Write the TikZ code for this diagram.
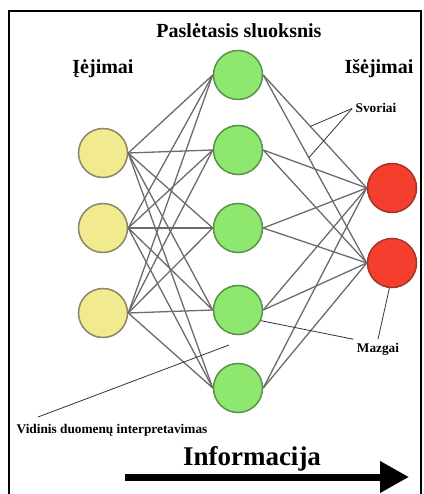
\documentclass[tikz,border=0pt]{standalone}
\usepackage{fontspec}
\setmainfont{Liberation Serif}
\usetikzlibrary{arrows.meta}

\definecolor{inptfill}{RGB}{242,234,142}
\definecolor{inptdraw}{RGB}{138,134,104}
\definecolor{hiddfill}{RGB}{142,232,112}
\definecolor{hidddraw}{RGB}{88,146,72}
\definecolor{outpfill}{RGB}{244,62,46}
\definecolor{outpdraw}{RGB}{168,52,40}

\begin{document}
\begin{tikzpicture}[
    x = 1pt,
    y = -1pt,
    neuron/.style = {circle, minimum size=49pt, inner sep=0pt, line width=1.5pt},
    inpt/.style = {neuron, fill=inptfill, draw=inptdraw},
    hidd/.style = {neuron, fill=hiddfill, draw=hidddraw},
    outp/.style = {neuron, fill=outpfill, draw=outpdraw},
    conn/.style = {line width=1.3pt, color=black!58},
    pointer/.style = {line width=0.8pt, color=black!80},
    head/.style = {font=\fontsize{20}{24}\selectfont\bfseries, anchor=base},
    lbl/.style = {font=\fontsize{13.3}{16}\selectfont\bfseries, anchor=base},
    ]
    \useasboundingbox (0, 0) rectangle (423, 494);
    % frame
    \draw[line width=2pt] (9, 494) -- (9, 11) -- (421, 11) -- (421, 494);
    % layers
    \foreach \y [count=\i] in {153, 228, 313}
    \node[inpt] (i\i) at (103, \y) {};
    \foreach \y [count=\i] in {75, 150, 228, 310, 388}
    \node[hidd] (h\i) at (238, \y) {};
    \foreach \y [count=\i] in {188, 263}
    \node[outp] (o\i) at (392, \y) {};
    % connections
    \foreach \a in {1, 2, 3}
    \foreach \b in {1, 2, 3, 4, 5}
    \draw[conn] (i\a.east) -- (h\b.west);
    \foreach \a in {1, 2, 3, 4, 5}
    \foreach \b in {1, 2}
    \draw[conn] (h\a.east) -- (o\b.west);
    % points on weights
    \path (h1.east) -- (o1.west) coordinate[pos=0.455] (w1);
    \path (h1.east) -- (o2.west) coordinate[pos=0.44] (w2);
    % headings
    \node[head] (hidden) at (239, 38) {Paslėtasis sluoksnis};
    \node[head] (inputs) at (103, 74) {Įėjimai};
    \node[head] (outputs) at (379, 74) {Išėjimai};
    % annotations
    \node[lbl] (svoriai) at (376, 113) {Svoriai};
    \draw[pointer] (svoriai.west) -- (w1);
    \draw[pointer] (svoriai.west) -- (w2);
    \node[lbl] (mazgai) at (378, 352) {Mazgai};
    \draw[pointer] (mazgai.north west) -- (h4.-25);
    \draw[pointer] (mazgai.north) -- (o2.-96);
    \node[lbl] (vidinis) at (112, 433) {Vidinis duomenų interpretavimas};
    \coordinate (vtail) at (38, 417);
    \coordinate (vhead) at (229, 345);
    \draw[pointer] (vtail) -- (vhead);
    % information flow
    \node[font=\fontsize{27}{32}\selectfont\bfseries, anchor=base]
    (info) at (252, 465) {Informacija};
    \coordinate (infoL) at (125, 477);
    \coordinate (infoR) at (409, 477);
    \draw[line width=7pt, -{Triangle[length=29pt, width=30pt]}] (infoL) -- (infoR);
  \end{tikzpicture}
\end{document}
